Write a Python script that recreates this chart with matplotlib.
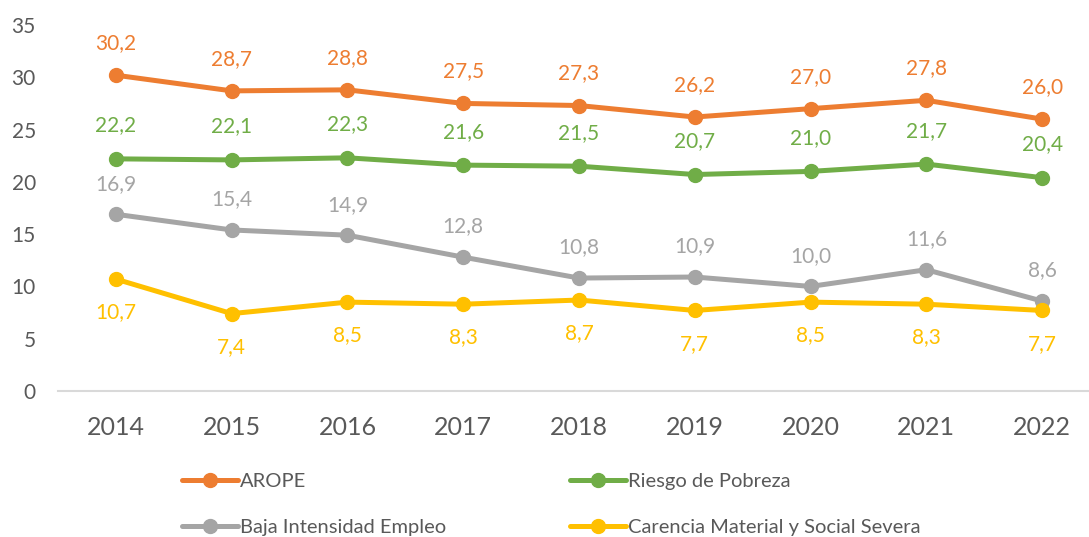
import matplotlib
matplotlib.use("Agg")
import matplotlib.pyplot as plt

# data
years = ["2014", "2015", "2016", "2017", "2018", "2019", "2020", "2021", "2022"]
arope = [30.2, 28.7, 28.8, 27.5, 27.3, 26.2, 27.0, 27.8, 26.0]
riesgo = [22.2, 22.1, 22.3, 21.6, 21.5, 20.7, 21.0, 21.7, 20.4]
baja = [16.9, 15.4, 14.9, 12.8, 10.8, 10.9, 10.0, 11.6, 8.6]
carencia = [10.7, 7.4, 8.5, 8.3, 8.7, 7.7, 8.5, 8.3, 7.7]
names = ["AROPE", "Riesgo de Pobreza", "Baja Intensidad Empleo",
         "Carencia Material y Social Severa"]

plt.rcParams["font.family"] = ["Lato", "DejaVu Sans"]

fig = plt.figure(figsize=(10.89, 5.37), dpi=100)
ax = fig.add_axes([58 / 1089, 146 / 537, 1042 / 1089, 366 / 537])

series = [arope, riesgo, baja, carencia]
colors = ["#ED7D31", "#70AD47", "#A5A5A5", "#FFC000"]
offsets = [23, 24, 22, -24]
x = list(range(len(years)))

lines = []
for vals, col, off, name in zip(series, colors, offsets, names):
    ln, = ax.plot(x, vals, color=col, lw=3.6, marker="o", ms=10,
                  solid_capstyle="round", label=name)
    lines.append(ln)
    for xi, v in zip(x, vals):
        ax.annotate(f"{v:.1f}".replace(".", ","), (xi, v),
                    xytext=(0, off), textcoords="offset points",
                    ha="center", va="center", fontsize=15, color=col)

ax.set_xlim(-0.5, 8.5)
ax.set_ylim(0, 35)
ax.set_yticks(range(0, 36, 5))
ax.set_xticks(x)
ax.set_xticklabels(years)
for s in ["top", "right", "left"]:
    ax.spines[s].set_visible(False)
ax.spines["bottom"].set_color("#D9D9D9")
ax.spines["bottom"].set_linewidth(1.5)
ax.tick_params(axis="y", length=0, pad=16, labelsize=15, labelcolor="#595959")
ax.tick_params(axis="x", length=0, pad=18, labelsize=18, labelcolor="#595959")

# legend, two columns
leg_kw = dict(frameon=False, fontsize=14.5, handlelength=2.8,
              handletextpad=0.1, labelspacing=1.45, borderpad=0,
              borderaxespad=0, labelcolor="#595959", loc="upper left")
l1 = fig.legend([lines[0], lines[2]], [names[0], names[2]],
                bbox_to_anchor=(182 / 1089, 1 - 473 / 537), **leg_kw)
l2 = fig.legend([lines[1], lines[3]], [names[1], names[3]],
                bbox_to_anchor=(570 / 1089, 1 - 473 / 537), **leg_kw)

fig.savefig("out.png", dpi=100)
